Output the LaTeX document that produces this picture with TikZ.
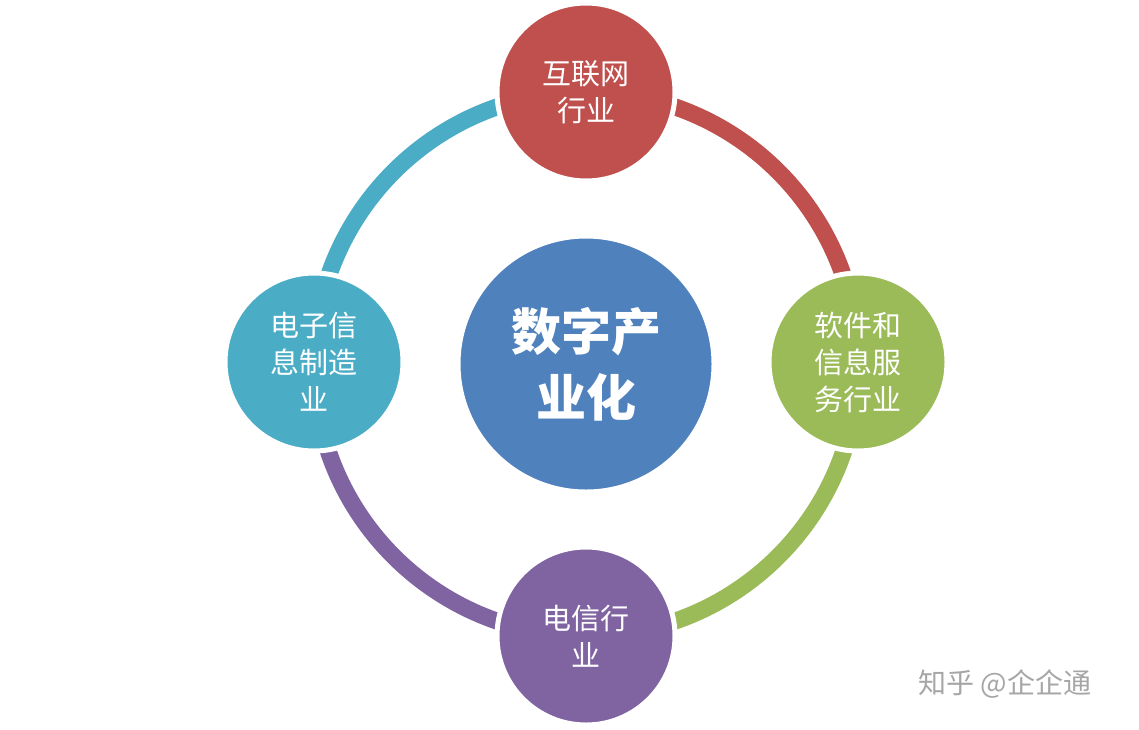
\documentclass[tikz,border=0pt]{standalone}
\usepackage{fontspec}
\newfontfamily\cjk{Noto Sans CJK SC}
\begin{document}
\begin{tikzpicture}[x=1pt,y=-1pt,
  sat/.style={circle,draw=white,line width=5pt,minimum size=178pt,inner sep=0pt,text=white,font=\cjk\fontsize{29}{37}\selectfont,align=center},
  ring/.style={line width=17pt}]
\useasboundingbox (0,0) rectangle (1139,729);
\fill[white] (0,0) rectangle (1139,729);
\coordinate (c) at (586,364);
\draw[ring,color={rgb,255:red,192;green,80;blue,77}] (c) ++(0:272) arc[start angle=0,end angle=-90,radius=272];
\draw[ring,color={rgb,255:red,155;green,187;blue,89}] (c) ++(0:272) arc[start angle=0,end angle=90,radius=272];
\draw[ring,color={rgb,255:red,128;green,100;blue,162}] (c) ++(90:272) arc[start angle=90,end angle=180,radius=272];
\draw[ring,color={rgb,255:red,75;green,172;blue,198}] (c) ++(180:272) arc[start angle=180,end angle=270,radius=272];
\node[sat,fill={rgb,255:red,79;green,129;blue,189},minimum size=256pt,font=\cjk\bfseries\fontsize{50}{66}\selectfont] (center) at (586,364) {数字产\\业化};
\node[sat,fill={rgb,255:red,192;green,80;blue,77}] (top) at (586,92) {互联网\\行业};
\node[sat,fill={rgb,255:red,155;green,187;blue,89}] (right) at (858,362) {软件和\\信息服\\务行业};
\node[sat,fill={rgb,255:red,128;green,100;blue,162}] (bottom) at (586,636) {电信行\\业};
\node[sat,fill={rgb,255:red,75;green,172;blue,198}] (left) at (314,362) {电子信\\息制造\\业};
\node[font=\cjk\fontsize{28}{32}\selectfont,text=black!35] (wm) at (1005,684) {知乎 @企企通};
\end{tikzpicture}
\end{document}
